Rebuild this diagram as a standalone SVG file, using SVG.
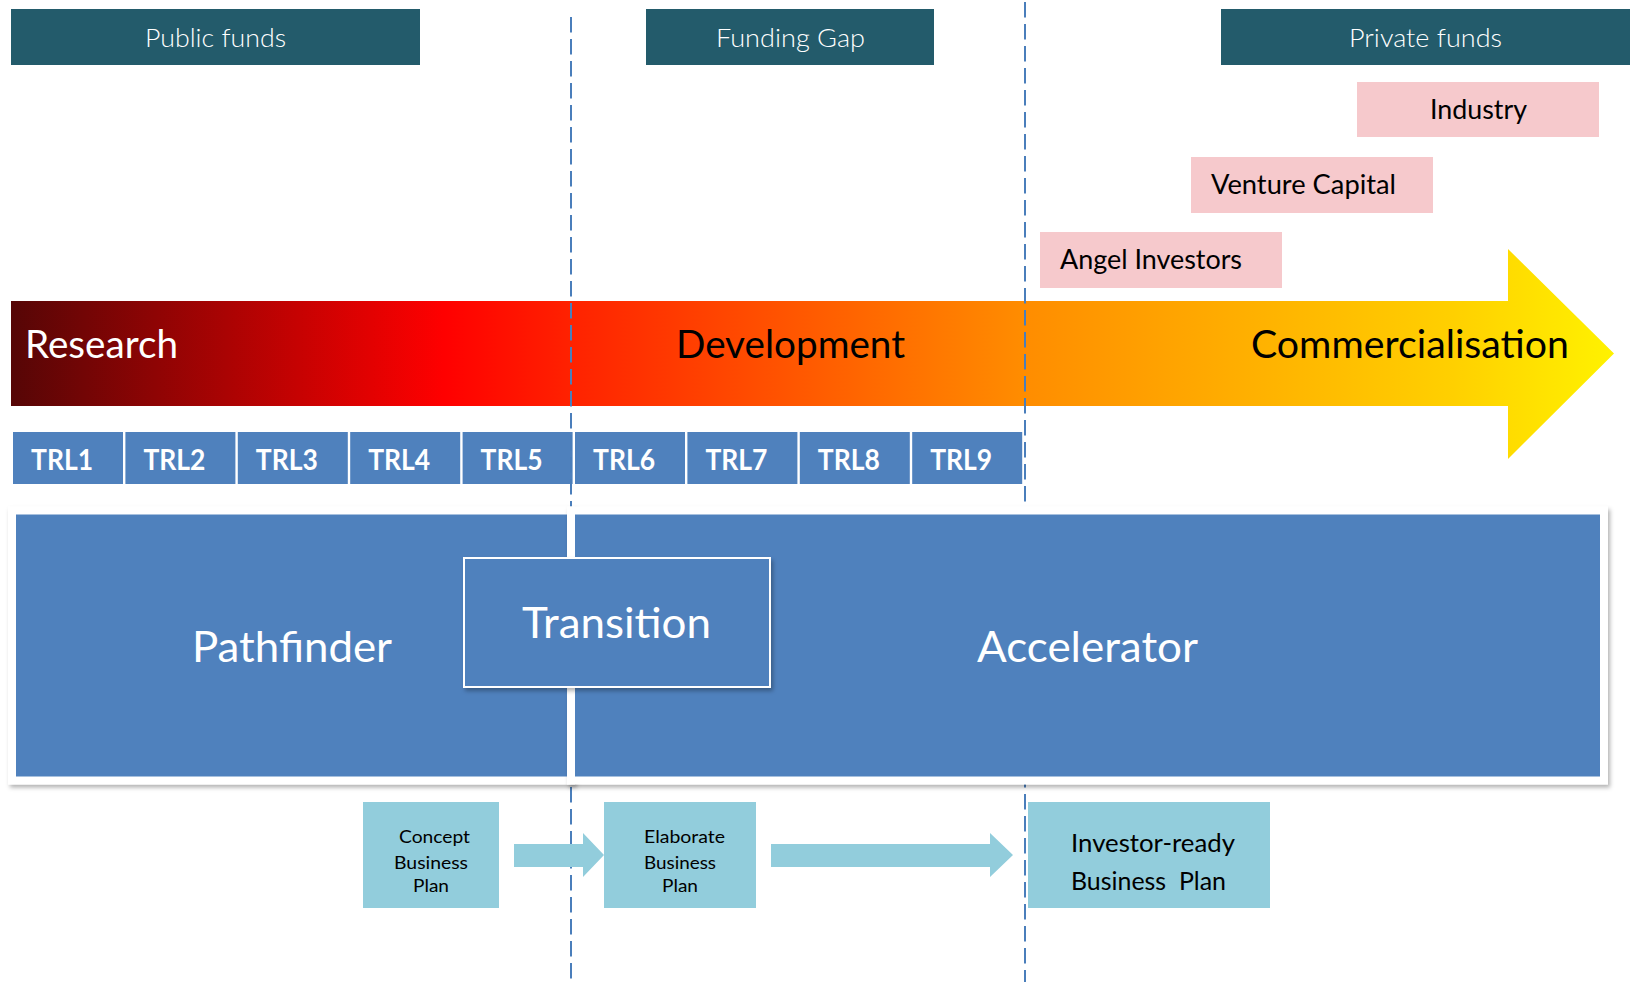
<svg xmlns="http://www.w3.org/2000/svg" width="1635" height="982" viewBox="0 0 1635 982">
<style>
text{font-family:Lato,"Open Sans","Liberation Sans",sans-serif}
.hdr{fill:#235b6b}
.hdrt{fill:#ffffff;font-size:25px;font-weight:300}
.pink{fill:#f6c9cc}
.pinkt{fill:#000000;font-size:26px}
.trl{fill:#4f81bd}
.trlt{fill:#ffffff;font-size:28.5px;font-weight:bold}
.big{fill:#4f81bd;stroke:#ffffff;stroke-width:8}
.bigt{fill:#ffffff;font-size:42px}
.lb{fill:#92cddc}
.lbt{fill:#000000;font-size:17px}
.lbt2{fill:#000000;font-size:25px}
.phase{font-size:38px}
.dash{stroke:#4a7ebb;stroke-width:2;stroke-dasharray:15.5 6.5;fill:none}
</style>
<defs>
<linearGradient id="grad" gradientUnits="userSpaceOnUse" x1="11" y1="0" x2="1614" y2="0">
<stop offset="0" stop-color="#560606"/>
<stop offset="0.27" stop-color="#ff0000"/>
<stop offset="0.35" stop-color="#ff2200"/>
<stop offset="0.63" stop-color="#ff8c00"/>
<stop offset="0.9" stop-color="#ffd000"/>
<stop offset="1" stop-color="#fff200"/>
</linearGradient>
<filter id="sh" x="-5%" y="-5%" width="110%" height="115%">
<feDropShadow dx="2" dy="3" stdDeviation="2" flood-color="#000000" flood-opacity="0.3"/>
</filter>
</defs>

<g id="header-public"><rect class="hdr" x="11" y="9" width="409" height="56"/><text class="hdrt" x="145" y="47" textLength="141" lengthAdjust="spacingAndGlyphs">Public funds</text></g>
<g id="header-gap"><rect class="hdr" x="646" y="9" width="288" height="56"/><text class="hdrt" x="716" y="47" textLength="149" lengthAdjust="spacingAndGlyphs">Funding Gap</text></g>
<g id="header-private"><rect class="hdr" x="1221" y="9" width="409" height="56"/><text class="hdrt" x="1349" y="47" textLength="153" lengthAdjust="spacingAndGlyphs">Private funds</text></g>

<g id="industry"><rect class="pink" x="1357" y="82" width="242" height="55"/><text class="pinkt" x="1430" y="119" textLength="97" lengthAdjust="spacingAndGlyphs">Industry</text></g>
<g id="venture"><rect class="pink" x="1191" y="157" width="242" height="56"/><text class="pinkt" x="1211" y="194" textLength="185" lengthAdjust="spacingAndGlyphs">Venture Capital</text></g>
<g id="angel"><rect class="pink" x="1040" y="232" width="242" height="56"/><text class="pinkt" x="1060" y="269" textLength="182" lengthAdjust="spacingAndGlyphs">Angel Investors</text></g>

<g id="phase-arrow">
<path d="M11,301 L1508,301 L1508,249 L1614,353.5 L1508,459 L1508,406 L11,406 Z" fill="url(#grad)"/>
<text class="phase" x="25" y="358" fill="#ffffff" textLength="153" lengthAdjust="spacingAndGlyphs">Research</text>
<text class="phase" x="676" y="358" fill="#000000" textLength="229" lengthAdjust="spacingAndGlyphs">Development</text>
<text class="phase" x="1251" y="358" fill="#000000" textLength="318" lengthAdjust="spacingAndGlyphs">Commercialisation</text>
</g>

<g id="trl1"><rect class="trl" x="13" y="432" width="110" height="52"/><text class="trlt" x="31" y="470" textLength="62" lengthAdjust="spacingAndGlyphs">TRL1</text></g>
<g id="trl2"><rect class="trl" x="125.4" y="432" width="110" height="52"/><text class="trlt" x="143.4" y="470" textLength="62" lengthAdjust="spacingAndGlyphs">TRL2</text></g>
<g id="trl3"><rect class="trl" x="237.8" y="432" width="110" height="52"/><text class="trlt" x="255.8" y="470" textLength="62" lengthAdjust="spacingAndGlyphs">TRL3</text></g>
<g id="trl4"><rect class="trl" x="350.2" y="432" width="110" height="52"/><text class="trlt" x="368.2" y="470" textLength="62" lengthAdjust="spacingAndGlyphs">TRL4</text></g>
<g id="trl5"><rect class="trl" x="462.6" y="432" width="110" height="52"/><text class="trlt" x="480.6" y="470" textLength="62" lengthAdjust="spacingAndGlyphs">TRL5</text></g>
<g id="trl6"><rect class="trl" x="575" y="432" width="110" height="52"/><text class="trlt" x="593" y="470" textLength="62" lengthAdjust="spacingAndGlyphs">TRL6</text></g>
<g id="trl7"><rect class="trl" x="687.4" y="432" width="110" height="52"/><text class="trlt" x="705.4" y="470" textLength="62" lengthAdjust="spacingAndGlyphs">TRL7</text></g>
<g id="trl8"><rect class="trl" x="799.8" y="432" width="110" height="52"/><text class="trlt" x="817.8" y="470" textLength="62" lengthAdjust="spacingAndGlyphs">TRL8</text></g>
<g id="trl9"><rect class="trl" x="912.2" y="432" width="110" height="52"/><text class="trlt" x="930.2" y="470" textLength="62" lengthAdjust="spacingAndGlyphs">TRL9</text></g>

<g id="dividers">
<line class="dash" x1="571" y1="17" x2="571" y2="982"/>
<line class="dash" x1="1025" y1="2" x2="1025" y2="982"/>
</g>

<g id="pathfinder"><rect class="big" x="12" y="510.5" width="559" height="270" filter="url(#sh)"/><text class="bigt" x="192" y="662" textLength="200" lengthAdjust="spacingAndGlyphs">Pathfinder</text></g>
<g id="accelerator"><rect class="big" x="571" y="510.5" width="1033" height="270" filter="url(#sh)"/><text class="bigt" x="977" y="662" textLength="221" lengthAdjust="spacingAndGlyphs">Accelerator</text></g>
<g id="transition"><rect x="464" y="558" width="306" height="129" fill="#4f81bd" stroke="#ffffff" stroke-width="2" filter="url(#sh)"/><text class="bigt" x="522" y="638" textLength="189" lengthAdjust="spacingAndGlyphs">Transition</text></g>

<g id="connectors">
<path class="lb" d="M514,844 L583,844 L583,833 L604,855 L583,877 L583,867 L514,867 Z"/>
<path class="lb" d="M771,844 L990,844 L990,833 L1013,855 L990,877 L990,867 L771,867 Z"/>
</g>

<g id="concept"><rect class="lb" x="363" y="802" width="136" height="106"/>
<text class="lbt" x="399" y="843" textLength="71" lengthAdjust="spacingAndGlyphs">Concept</text>
<text class="lbt" x="394" y="869" textLength="74" lengthAdjust="spacingAndGlyphs">Business</text>
<text class="lbt" x="413" y="892" textLength="36" lengthAdjust="spacingAndGlyphs">Plan</text></g>
<g id="elaborate"><rect class="lb" x="604" y="802" width="152" height="106"/>
<text class="lbt" x="644" y="843" textLength="81" lengthAdjust="spacingAndGlyphs">Elaborate</text>
<text class="lbt" x="644" y="869" textLength="72" lengthAdjust="spacingAndGlyphs">Business</text>
<text class="lbt" x="662" y="892" textLength="36" lengthAdjust="spacingAndGlyphs">Plan</text></g>
<g id="investor"><rect class="lb" x="1028" y="802" width="242" height="106"/>
<text class="lbt2" x="1071" y="852" textLength="164" lengthAdjust="spacingAndGlyphs">Investor-ready</text>
<text class="lbt2" x="1071" y="890" textLength="155" lengthAdjust="spacingAndGlyphs" xml:space="preserve">Business  Plan</text></g>
</svg>
